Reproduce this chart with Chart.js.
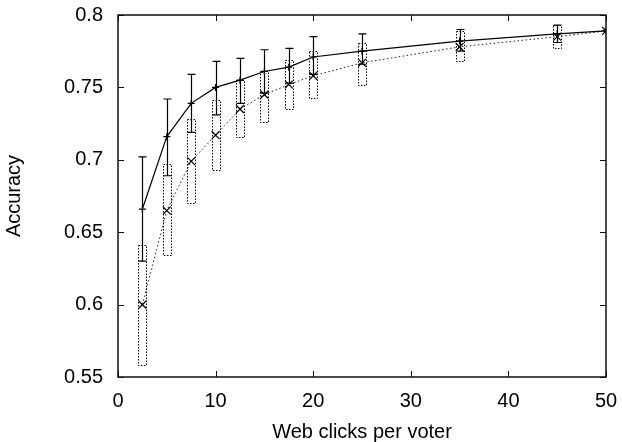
<!DOCTYPE html>
<html>
<head>
<meta charset="utf-8">
<script src="https://cdn.jsdelivr.net/npm/chart.js@4.4.0/dist/chart.umd.min.js"></script>
<style>
  html, body { margin: 0; padding: 0; background: #fff; }
</style>
</head>
<body>
<canvas id="chart" width="622" height="442"></canvas>
<script>
const clicks = [2.5, 5, 7.5, 10, 12.5, 15, 17.5, 20, 25, 35, 45, 50];

// solid curve (+) with error bars
const accA     = [0.666, 0.716, 0.739, 0.750, 0.755, 0.761, 0.764, 0.771, 0.775, 0.782, 0.787, 0.789];
const accALow  = [0.630, 0.689, 0.719, 0.731, 0.739, 0.746, 0.753, 0.759, 0.766, 0.775, 0.781, null];
const accAHigh = [0.702, 0.742, 0.759, 0.768, 0.770, 0.776, 0.777, 0.785, 0.787, 0.790, 0.793, null];

// dotted curve (x) with boxes
const accB     = [0.600, 0.665, 0.699, 0.717, 0.735, 0.745, 0.752, 0.758, 0.767, 0.778, 0.785, 0.789];
const accBLow  = [0.558, 0.634, 0.670, 0.693, 0.716, 0.726, 0.735, 0.743, 0.752, 0.768, 0.777, null];
const accBHigh = [0.641, 0.697, 0.728, 0.741, 0.755, 0.761, 0.769, 0.775, 0.781, 0.789, 0.793, null];

const xTicks = [0, 10, 20, 30, 40, 50];
const yTicks = [0.55, 0.6, 0.65, 0.7, 0.75, 0.8];

const FONT = "'Liberation Sans', Arial, sans-serif";

// boxes, error bars, frame and inward ticks (gnuplot look)
const decor = {
  id: "decor",
  beforeDatasetsDraw(chart) {
    const { ctx, scales: { x, y } } = chart;
    ctx.save();
    ctx.strokeStyle = "#000";
    ctx.lineWidth = 1;
    ctx.setLineDash([1.5, 1.5]);
    clicks.forEach((c, i) => {
      if (accBLow[i] == null) return;
      const px = Math.round(x.getPixelForValue(c)) + 0.5;
      const top = Math.round(y.getPixelForValue(accBHigh[i])) + 0.5;
      const bot = Math.round(y.getPixelForValue(accBLow[i])) + 0.5;
      ctx.strokeRect(px - 4, top, 8, bot - top);
    });
    ctx.setLineDash([]);
    ctx.lineWidth = 1.2;
    clicks.forEach((c, i) => {
      if (accALow[i] == null) return;
      const px = Math.round(x.getPixelForValue(c)) + 0.5;
      const top = y.getPixelForValue(accAHigh[i]);
      const bot = y.getPixelForValue(accALow[i]);
      ctx.beginPath();
      ctx.moveTo(px, top); ctx.lineTo(px, bot);
      ctx.moveTo(px - 4, top); ctx.lineTo(px + 4, top);
      ctx.moveTo(px - 4, bot); ctx.lineTo(px + 4, bot);
      ctx.stroke();
    });
    ctx.restore();
  },
  afterDraw(chart) {
    const { ctx, chartArea: a, scales: { x, y } } = chart;
    ctx.save();
    ctx.strokeStyle = "#111";
    ctx.lineWidth = 1;
    ctx.beginPath();
    xTicks.forEach(v => {
      const px = Math.round(x.getPixelForValue(v)) + 0.5;
      ctx.moveTo(px, a.bottom); ctx.lineTo(px, a.bottom - 6);
      ctx.moveTo(px, a.top); ctx.lineTo(px, a.top + 6);
    });
    yTicks.forEach(v => {
      const py = Math.round(y.getPixelForValue(v)) + 0.5;
      ctx.moveTo(a.left, py); ctx.lineTo(a.left + 6, py);
      ctx.moveTo(a.right, py); ctx.lineTo(a.right - 6, py);
    });
    ctx.stroke();
    ctx.lineWidth = 1.5;
    ctx.strokeRect(a.left, a.top, a.right - a.left, a.bottom - a.top);
    ctx.restore();
  }
};

new Chart(document.getElementById("chart"), {
  type: "scatter",
  data: {
    datasets: [
      {
        data: clicks.map((c, i) => ({ x: c, y: accA[i] })),
        showLine: true,
        borderColor: "#000",
        borderWidth: 1.2,
        pointStyle: "cross",
        pointRadius: 3.5,
        pointBorderWidth: 1.2,
        pointBorderColor: "#000"
      },
      {
        data: clicks.map((c, i) => ({ x: c, y: accB[i] })),
        showLine: true,
        borderColor: "#222",
        borderWidth: 1,
        borderDash: [1.5, 2.5],
        pointStyle: "crossRot",
        pointRadius: 5.5,
        pointBorderWidth: 1.2,
        pointBorderColor: "#000"
      }
    ]
  },
  options: {
    responsive: false,
    animation: false,
    devicePixelRatio: 1,
    layout: { padding: { top: 15, right: 16, bottom: 0, left: 0 } },
    plugins: { legend: { display: false }, tooltip: { enabled: false } },
    scales: {
      x: {
        type: "linear",
        min: 0,
        max: 50,
        afterBuildTicks: s => { s.ticks = xTicks.map(v => ({ value: v })); },
        afterFit: s => { s.height = 65; s.paddingLeft = 0; s.paddingRight = 0; },
        grid: { display: false, drawTicks: false },
        border: { display: false },
        ticks: { color: "#000", font: { family: FONT, size: 20 }, padding: 12, maxRotation: 0, autoSkip: false },
        title: {
          display: true,
          text: "Web clicks per voter",
          color: "#000",
          font: { family: FONT, size: 20, lineHeight: 1 },
          padding: { top: 0, bottom: 0 }
        }
      },
      y: {
        min: 0.55,
        max: 0.8,
        afterBuildTicks: s => { s.ticks = yTicks.map(v => ({ value: v })); },
        afterFit: s => { s.width = 118; s.paddingTop = 0; s.paddingBottom = 0; },
        grid: { display: false, drawTicks: false },
        border: { display: false },
        ticks: {
          color: "#000",
          font: { family: FONT, size: 20 },
          padding: 15,
          callback: v => String(+v.toFixed(2))
        },
        title: {
          display: true,
          text: "Accuracy",
          color: "#000",
          font: { family: FONT, size: 20, lineHeight: 1 },
          padding: { top: 4, bottom: 0 }
        }
      }
    }
  },
  plugins: [decor]
});
</script>
</body>
</html>
